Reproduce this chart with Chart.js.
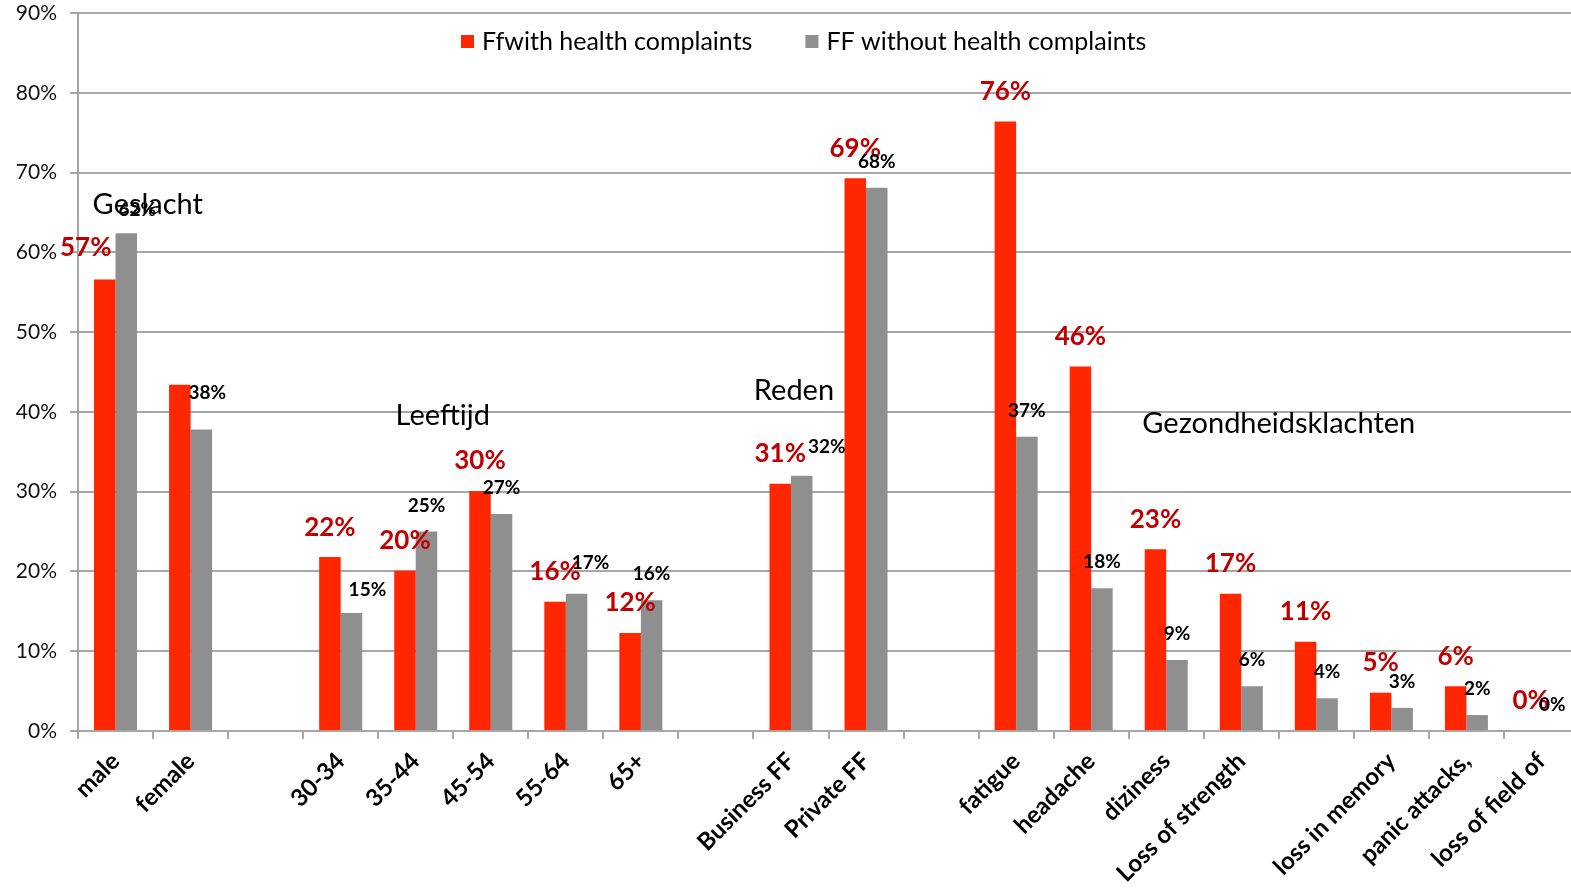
<!DOCTYPE html>
<html>
<head>
<meta charset="utf-8">
<title>Health complaints</title>
<script src="https://cdn.jsdelivr.net/npm/chart.js@4.4.1/dist/chart.umd.min.js"></script>
<style>
    html, body { margin: 0; padding: 0; background: #fff; overflow: hidden; }
    #wrap { width: 1580px; height: 890px; }
</style>
</head>
<body>
<div id="wrap"><canvas id="complaintsChart" width="1580" height="890"></canvas></div>
<script>
// ### DATA ###
// blank categories are the gaps between the groups
const categories = ['male', 'female', '', '30-34', '35-44', '45-54', '55-64', '65+', '',
    'Business FF', 'Private FF', '', 'fatigue', 'headache', 'diziness', 'Loss of strength', '',
    'loss in memory', 'panic attacks,', 'loss of field of'];
const withComplaints = [56.6, 43.4, null, 21.8, 20.1, 30.1, 16.2, 12.3, null,
    31.0, 69.3, null, 76.4, 45.7, 22.8, 17.2, 11.2, 4.8, 5.6, 0];
const withoutComplaints = [62.4, 37.8, null, 14.8, 25.0, 27.2, 17.2, 16.4, null,
    32.0, 68.1, null, 36.9, 17.9, 8.9, 5.6, 4.1, 2.9, 2.0, 0];
const seriesNames = ['Ffwith health complaints', 'FF without health complaints'];
const yTicks = [0, 10, 20, 30, 40, 50, 60, 70, 80, 90];
const groupNames = ['Geslacht', 'Leeftijd', 'Reden', 'Gezondheidsklachten'];

const RED = '#ff2600';
const GREY = '#8f8f8f';
const FONT = 'Lato, "Open Sans", sans-serif';

// ### VALUE LABELS ABOVE BARS ###
const barLabels = {
    id: 'barLabels',
    afterDatasetsDraw(chart, args, opts) {
        const ctx = chart.ctx;
        chart.data.datasets.forEach((ds, di) => {
            const meta = chart.getDatasetMeta(di);
            const st = opts.styles[di];
            meta.data.forEach((bar, i) => {
                const v = ds.data[i];
                if (v === null || v === undefined) return;
                const nudge = (opts.nudge[di] && opts.nudge[di][i]) || [0, 0];
                ctx.save();
                ctx.font = st.font;
                ctx.fillStyle = st.color;
                ctx.textAlign = 'center';
                ctx.textBaseline = 'middle';
                ctx.fillText(Math.round(v) + '%', bar.x + nudge[0], bar.y - st.lift + nudge[1]);
                ctx.restore();
            });
        });
    }
};

// ### GROUP TITLES + LEGEND ###
const chartNotes = {
    id: 'chartNotes',
    afterDraw(chart, args, opts) {
        const ctx = chart.ctx;
        const xs = chart.scales.x;
        const ys = chart.scales.y;
        ctx.save();
        ctx.textBaseline = 'middle';

        // group names, placed on category index / percent
        ctx.font = opts.groupFont;
        ctx.fillStyle = '#000';
        ctx.textAlign = 'center';
        opts.groups.forEach((g, i) => {
            const px = xs.getPixelForValue(0) + (xs.getPixelForValue(1) - xs.getPixelForValue(0)) * g.at;
            ctx.fillText(groupNames[i], px, ys.getPixelForValue(g.level));
        });

        // legend
        ctx.font = opts.legendFont;
        ctx.textAlign = 'left';
        let x = opts.legendX;
        chart.data.datasets.forEach(ds => {
            ctx.fillStyle = ds.backgroundColor;
            ctx.fillRect(x, opts.legendY - 7, 13, 13);
            ctx.fillStyle = '#000';
            ctx.fillText(ds.label, x + 21, opts.legendY);
            x += 21 + ctx.measureText(ds.label).width + 53;
        });
        ctx.restore();
    }
};

new Chart(document.getElementById('complaintsChart'), {
    type: 'bar',
    data: {
        labels: categories,
        datasets: [
            { label: seriesNames[0], data: withComplaints, backgroundColor: RED },
            { label: seriesNames[1], data: withoutComplaints, backgroundColor: GREY }
        ]
    },
    options: {
        responsive: false,
        animation: false,
        devicePixelRatio: 1,
        layout: { padding: { top: 0, right: 1, left: 0, bottom: 0 } },
        datasets: { bar: { categoryPercentage: 0.573, barPercentage: 1.0 } },
        plugins: {
            legend: { display: false },
            tooltip: { enabled: false },
            barLabels: {
                styles: [
                    { font: 'bold 26px ' + FONT, color: '#c00000', lift: 30 },
                    { font: 'bold 19px ' + FONT, color: '#000', lift: 26 }
                ],
                nudge: [
                    { 0: [-19, -2] },
                    { 0: [11, 3], 1: [6, -11], 3: [16, 3], 6: [14, -5], 9: [25, -3] }
                ]
            },
            chartNotes: {
                groupFont: '29px ' + FONT,
                legendFont: '25px ' + FONT,
                legendX: 461,
                legendY: 42,
                groups: [
                    { at: 0.43, level: 66.0 },
                    { at: 4.36, level: 39.5 },
                    { at: 9.04, level: 42.7 },
                    { at: 15.5, level: 38.5 }
                ]
            }
        },
        scales: {
            x: {
                afterFit: s => { s.height = 159; },
                border: { color: '#a6a6a6', width: 2 },
                grid: {
                    offset: true,
                    drawOnChartArea: false,
                    drawTicks: true,
                    tickLength: 8,
                    color: '#a6a6a6',
                    lineWidth: 2
                },
                ticks: {
                    autoSkip: false,
                    maxRotation: 45,
                    minRotation: 45,
                    padding: 8,
                    color: '#000',
                    font: { family: FONT, size: 24, weight: 'bold' }
                }
            },
            y: {
                min: 0,
                max: 90,
                afterFit: s => { s.width = 78; },
                afterBuildTicks: s => { s.ticks = yTicks.map(v => ({ value: v })); },
                border: { color: '#a6a6a6', width: 2 },
                grid: { color: '#a6a6a6', lineWidth: 2, tickLength: 8 },
                ticks: {
                    padding: 13,
                    color: '#111',
                    font: { family: FONT, size: 21, lineHeight: 0.01 },
                    callback: v => v + '%'
                }
            }
        }
    },
    plugins: [barLabels, chartNotes]
});
</script>
</body>
</html>
